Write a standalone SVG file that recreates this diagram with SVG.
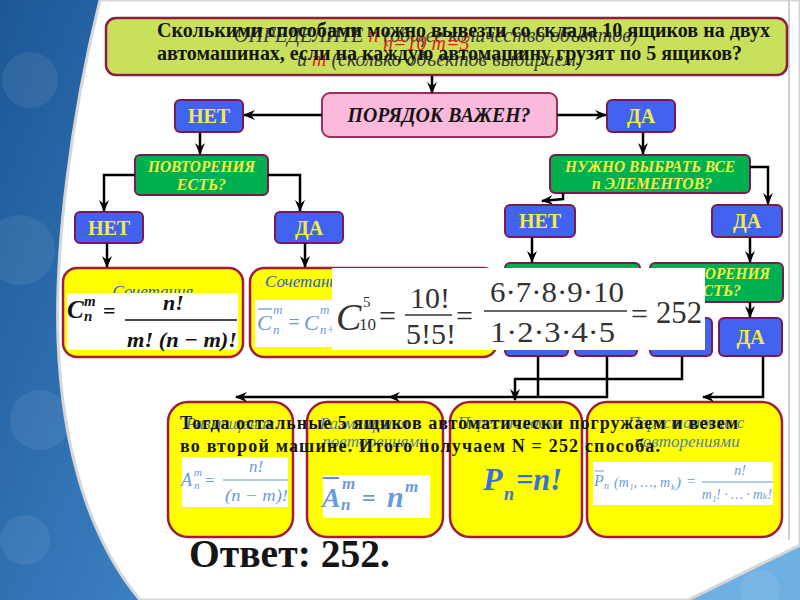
<svg xmlns="http://www.w3.org/2000/svg" width="800" height="600" viewBox="0 0 800 600" font-family="'Liberation Serif', 'DejaVu Serif', serif">
<defs>
<linearGradient id="bg" x1="0" y1="0" x2="1" y2="0.3">
<stop offset="0" stop-color="#1d5796"/>
<stop offset="0.5" stop-color="#3f86c8"/>
<stop offset="1" stop-color="#6fb0e2"/>
</linearGradient>
<marker id="ah" viewBox="0 0 12 10" refX="11" refY="5" markerWidth="12" markerHeight="10" markerUnits="userSpaceOnUse" orient="auto">
<path d="M0,0 L12,5 L0,10 L4,5 Z" fill="#000"/>
</marker>
<style>
text{font-family:"Liberation Serif","DejaVu Serif",serif}
.con{fill:none;stroke:#000;stroke-width:2.5}
.bl{fill:#4262f0;stroke:#7a1a55;stroke-width:2}
.gr{fill:#00b050;stroke:#7a1a55;stroke-width:2}
.yl{fill:#ffff00;stroke:#a01c3c;stroke-width:2.5}
.wt{fill:#fff}
.bt{font-weight:bold;fill:#f2ee40;font-size:20px;text-anchor:middle}
.gt{font-weight:bold;font-style:italic;fill:#f2ee40;font-size:16px;text-anchor:middle}
.blk{font-weight:bold;fill:#151515}
.it{font-style:italic}
.ttl{font-style:italic;fill:#2e60c4;font-size:17px}
.ft{font-style:italic;fill:#6b9bd8}
.fm{fill:#333}
</style>
</defs>

<!-- background -->
<rect width="800" height="600" fill="url(#bg)"/>
<g fill="#ffffff" opacity="0.07">
<circle cx="30" cy="80" r="28"/><circle cx="20" cy="250" r="35"/><circle cx="40" cy="420" r="30"/><circle cx="25" cy="540" r="25"/><circle cx="760" cy="590" r="20"/>
</g>
<path d="M100,0 H800 V545 L688,600 H140 C90,540 62,450 58,340 C55,250 70,120 100,0 Z" fill="#ffffff" stroke="#d6d6d6" stroke-width="3"/>
<line x1="789" y1="0" x2="789" y2="540" stroke="#d0d0d0" stroke-width="2"/>

<!-- banner -->
<g id="banner">
<rect x="106" y="18" width="681" height="57" rx="10" fill="#c8e05c" stroke="#8b1f3f" stroke-width="2.5"/>
<text class="it" x="234" y="42" font-size="20" fill="#3a3a3a">ОПРЕДЕЛИТЕ <tspan fill="#e02020">n</tspan> (общее количество объектов)</text>
<text class="it" x="383" y="50" font-size="20" fill="#e02020">n=10 m=5</text>
<text class="it" x="297" y="66" font-size="20" fill="#3a3a3a">и <tspan fill="#e02020">m</tspan> (сколько объектов выбираем)</text>
<text class="blk" x="157" y="37" font-size="20" textLength="613" lengthAdjust="spacingAndGlyphs">Сколькими способами можно вывезти со склада 10 ящиков на двух</text>
<text class="blk" x="157" y="60" font-size="20" textLength="585" lengthAdjust="spacingAndGlyphs">автомашинах, если на каждую автомашину грузят по 5 ящиков?</text>
</g>

<g id="order">
<rect x="322" y="93" width="235" height="44" rx="8" fill="#fbb9dc" stroke="#9b2e5e" stroke-width="2"/>
<text class="blk" x="439" y="122" font-size="20" font-style="italic" text-anchor="middle" textLength="183" lengthAdjust="spacingAndGlyphs">ПОРЯДОК ВАЖЕН?</text>
</g>

<g id="no1"><rect class="bl" x="175" y="100" width="68" height="32" rx="5"/><text class="bt" x="209" y="123">НЕТ</text></g>
<g id="yes1"><rect class="bl" x="607" y="100" width="68" height="32" rx="5"/><text class="bt" x="641" y="123">ДА</text></g>

<g id="rep1"><rect class="gr" x="135" y="155" width="133" height="40" rx="5"/>
<text class="gt" x="201.5" y="172" textLength="107" lengthAdjust="spacingAndGlyphs">ПОВТОРЕНИЯ</text>
<text class="gt" x="201.5" y="190">ЕСТЬ?</text></g>

<g id="all"><rect class="gr" x="550" y="155" width="200" height="38" rx="5"/>
<text class="gt" x="650" y="172" textLength="170" lengthAdjust="spacingAndGlyphs">НУЖНО ВЫБРАТЬ ВСЕ</text>
<text class="gt" x="652" y="189" textLength="120" lengthAdjust="spacingAndGlyphs">n  ЭЛЕМЕНТОВ?</text></g>

<g id="no2"><rect class="bl" x="75" y="212" width="68" height="31" rx="5"/><text class="bt" x="109" y="235">НЕТ</text></g>
<g id="yes2"><rect class="bl" x="275" y="212" width="68" height="31" rx="5"/><text class="bt" x="309" y="235">ДА</text></g>
<g id="no3"><rect class="bl" x="505" y="205" width="70" height="32" rx="5"/><text class="bt" x="540" y="228">НЕТ</text></g>
<g id="yes3"><rect class="bl" x="712" y="205" width="70" height="32" rx="5"/><text class="bt" x="747" y="228">ДА</text></g>

<g id="hidgreen"><rect class="gr" x="505" y="263" width="135" height="40" rx="5"/></g>
<g id="rep2"><rect class="gr" x="650" y="263" width="133" height="39" rx="5"/>
<text class="gt" x="716.5" y="279" textLength="107" lengthAdjust="spacingAndGlyphs">ПОВТОРЕНИЯ</text>
<text class="gt" x="716.5" y="296">ЕСТЬ?</text></g>
<g id="hb1"><rect class="bl" x="505" y="318" width="63" height="38" rx="5"/></g>
<g id="hb2"><rect class="bl" x="575" y="318" width="62" height="38" rx="5"/></g>
<g id="hb3"><rect class="bl" x="650" y="318" width="62" height="38" rx="5"/></g>
<g id="yes4"><rect class="bl" x="719" y="318" width="63" height="38" rx="5"/><text class="bt" x="750.5" y="344">ДА</text></g>

<!-- combinations -->
<g id="comb">
<rect class="yl" x="63" y="268" width="180" height="89" rx="14"/>
<text class="ttl" x="153" y="297" text-anchor="middle">Сочетания</text>
<rect class="wt" x="67" y="293" width="171" height="57"/>
<g class="it" font-weight="bold" fill="#111">
<text x="67" y="318" font-size="25">C</text>
<text x="84" y="306" font-size="15">m</text>
<text x="84" y="321" font-size="15">n</text>
<text x="103" y="318" font-size="22" font-style="normal">=</text>
<text x="163" y="310" font-size="22">n!</text>
<text x="127" y="347" font-size="22" textLength="110" lengthAdjust="spacingAndGlyphs">m! (n − m)!</text>
</g>
<line x1="125" y1="320" x2="237" y2="320" stroke="#111" stroke-width="1.5"/>
</g>

<g id="combrep">
<rect class="yl" x="250" y="268" width="247" height="89" rx="14"/>
<text class="ttl" x="265" y="287">Сочетания с повторениями</text>
<rect class="wt" x="255" y="300" width="236" height="47"/>
<text class="ft" x="257" y="330" font-size="22">C</text>
<line x1="258" y1="309" x2="272" y2="309" stroke="#6b9bd8" stroke-width="1.3"/>
<text class="ft" x="273" y="314" font-size="13">m</text>
<text class="ft" x="273" y="334" font-size="13">n</text>
<text class="ft" x="287" y="329" font-size="20" font-style="normal">=</text>
<text class="ft" x="304" y="330" font-size="22">C</text>
<text class="ft" x="320" y="314" font-size="13">m</text>
<text class="ft" x="320" y="334" font-size="13">n+m−1</text>
</g>

<!-- overlay formula -->
<g id="overlay">
<rect x="332" y="268" width="373" height="82" fill="#fff"/>
<text class="fm it" x="336" y="330" font-size="38">C</text>
<text class="fm" x="363" y="307" font-size="15">5</text>
<text class="fm" x="359" y="330" font-size="17">10</text>
<text class="fm" x="379" y="326" font-size="30">=</text>
<text class="fm" x="430" y="308" font-size="30" text-anchor="middle">10!</text>
<line x1="405" y1="315" x2="452" y2="315" stroke="#333" stroke-width="1.5"/>
<text class="fm" x="431" y="344" font-size="30" text-anchor="middle">5!5!</text>
<text class="fm" x="456" y="326" font-size="30">=</text>
<text class="fm" x="490" y="302" font-size="30" textLength="134" lengthAdjust="spacingAndGlyphs">6·7·8·9·10</text>
<line x1="484" y1="311" x2="627" y2="311" stroke="#333" stroke-width="1.5"/>
<text class="fm" x="490" y="342" font-size="30" textLength="125" lengthAdjust="spacingAndGlyphs">1·2·3·4·5</text>
<text class="fm" x="631" y="324" font-size="30">=</text>
<text class="fm" x="656" y="323" font-size="31" textLength="46" lengthAdjust="spacingAndGlyphs">252</text>
</g>

<!-- bottom boxes -->
<g id="arr">
<rect class="yl" x="168" y="402" width="125" height="135" rx="20"/>
<text class="ttl" x="230" y="429" text-anchor="middle" opacity="0.8">Размещения</text>
<rect class="wt" x="182" y="457" width="106" height="50"/>
<text class="ft" x="181" y="486" font-size="18">A</text>
<text class="ft" x="194" y="476" font-size="11">m</text>
<text class="ft" x="194" y="489" font-size="11">n</text>
<text class="ft" x="204" y="486" font-size="17" font-style="normal">=</text>
<text class="ft" x="256" y="472" font-size="17" text-anchor="middle">n!</text>
<line x1="223" y1="480" x2="288" y2="480" stroke="#6b9bd8" stroke-width="1.2"/>
<text class="ft" x="225" y="501" font-size="17" textLength="63" lengthAdjust="spacingAndGlyphs">(n − m)!</text>
</g>

<g id="arrrep">
<rect class="yl" x="307" y="402" width="136" height="135" rx="20"/>
<text class="ttl" x="370" y="429" text-anchor="middle" opacity="0.8">Размещения с</text>
<text class="ttl" x="375" y="447" text-anchor="middle" font-size="15" opacity="0.8">повторениями</text>
<rect class="wt" x="323" y="475" width="107" height="43"/>
<g class="ft" font-weight="bold" fill="#5a8fd8">
<text x="322" y="507" font-size="28">A</text>
<text x="342" y="489" font-size="17">m</text>
<text x="341" y="510" font-size="17">n</text>
<text x="362" y="506" font-size="24" font-style="normal">=</text>
<text x="387" y="507" font-size="30">n</text>
<text x="405" y="492" font-size="17">m</text>
</g>
<line x1="323" y1="478" x2="339" y2="478" stroke="#5a8fd8" stroke-width="2"/>
</g>

<g id="perm">
<rect class="yl" x="450" y="402" width="132" height="135" rx="20"/>
<text class="ttl" x="510" y="428" text-anchor="middle" opacity="0.8">Перестановки</text>
<g class="it" font-weight="bold" fill="#3a6ee0">
<text x="483" y="490" font-size="32">P</text>
<text x="504" y="500" font-size="18">n</text>
<text x="516" y="490" font-size="32" textLength="46" lengthAdjust="spacingAndGlyphs">=n!</text>
</g>
</g>

<g id="permrep">
<rect class="yl" x="587" y="402" width="195" height="135" rx="20"/>
<text class="ttl" x="686" y="428" text-anchor="middle" opacity="0.8">Перестановки с</text>
<text class="ttl" x="687" y="447" text-anchor="middle" font-size="15" opacity="0.8">повторениями</text>
<rect class="wt" x="593" y="462" width="180" height="43"/>
<text class="ft" x="594" y="486" font-size="16">P</text>
<line x1="595" y1="471" x2="604" y2="471" stroke="#6b9bd8" stroke-width="1"/>
<text class="ft" x="604" y="489" font-size="10">n</text>
<text class="ft" x="614" y="487" font-size="15" textLength="56" lengthAdjust="spacingAndGlyphs">(m₁, …, m</text>
<text class="ft" x="671" y="490" font-size="9">k</text>
<text class="ft" x="676" y="487" font-size="15">)</text>
<text class="ft" x="686" y="486" font-size="15" font-style="normal">=</text>
<text class="ft" x="740" y="475" font-size="14" text-anchor="middle">n!</text>
<line x1="702" y1="482" x2="773" y2="482" stroke="#6b9bd8" stroke-width="1"/>
<text class="ft" x="702" y="499" font-size="14" textLength="70" lengthAdjust="spacingAndGlyphs">m₁! · … · mₖ!</text>
</g>

<!-- overlaid answer text -->
<g id="answer">
<text class="blk" x="180" y="429" font-size="18" textLength="558" lengthAdjust="spacing">Тогда остальные 5 ящиков  автоматически погружаем и везем</text>
<text class="blk" x="180" y="452" font-size="18" textLength="480" lengthAdjust="spacing">во второй машине. Итого получаем N = 252  способа.</text>
<text class="blk" x="189" y="567" font-size="40" fill="#000" textLength="201" lengthAdjust="spacingAndGlyphs">Ответ: 252.</text>
</g>

<!-- connectors -->
<g id="connectors">
<path class="con" d="M432,76 V93" marker-end="url(#ah)"/>
<path class="con" d="M322,115 H244" marker-end="url(#ah)"/>
<path class="con" d="M557,115 H606" marker-end="url(#ah)"/>
<path class="con" d="M200,132 V154" marker-end="url(#ah)"/>
<path class="con" d="M135,175 H104 V211" marker-end="url(#ah)"/>
<path class="con" d="M268,175 H300 V211" marker-end="url(#ah)"/>
<path class="con" d="M107,243 V267" marker-end="url(#ah)"/>
<path class="con" d="M305,243 V267" marker-end="url(#ah)"/>
<path class="con" d="M643,132 V154" marker-end="url(#ah)"/>
<path class="con" d="M750,167 H768 V204" marker-end="url(#ah)"/>
<path class="con" d="M563,193 V199 L542,201" stroke-width="2" marker-end="url(#ah)"/>
<path class="con" d="M532,237 V262" marker-end="url(#ah)"/>
<path class="con" d="M750,237 V262" marker-end="url(#ah)"/>
<path class="con" d="M750,302 V317" marker-end="url(#ah)"/>
<path class="con" d="M538,356 V397"/>
<path class="con" d="M607,356 V397 H389" marker-end="url(#ah)"/>
<path class="con" d="M389,397 H236" marker-end="url(#ah)"/>
<path class="con" d="M682,356 V379 H515 V400" marker-end="url(#ah)"/>
<path class="con" d="M763,356 V397 H703" marker-end="url(#ah)"/>
</g>
</svg>
